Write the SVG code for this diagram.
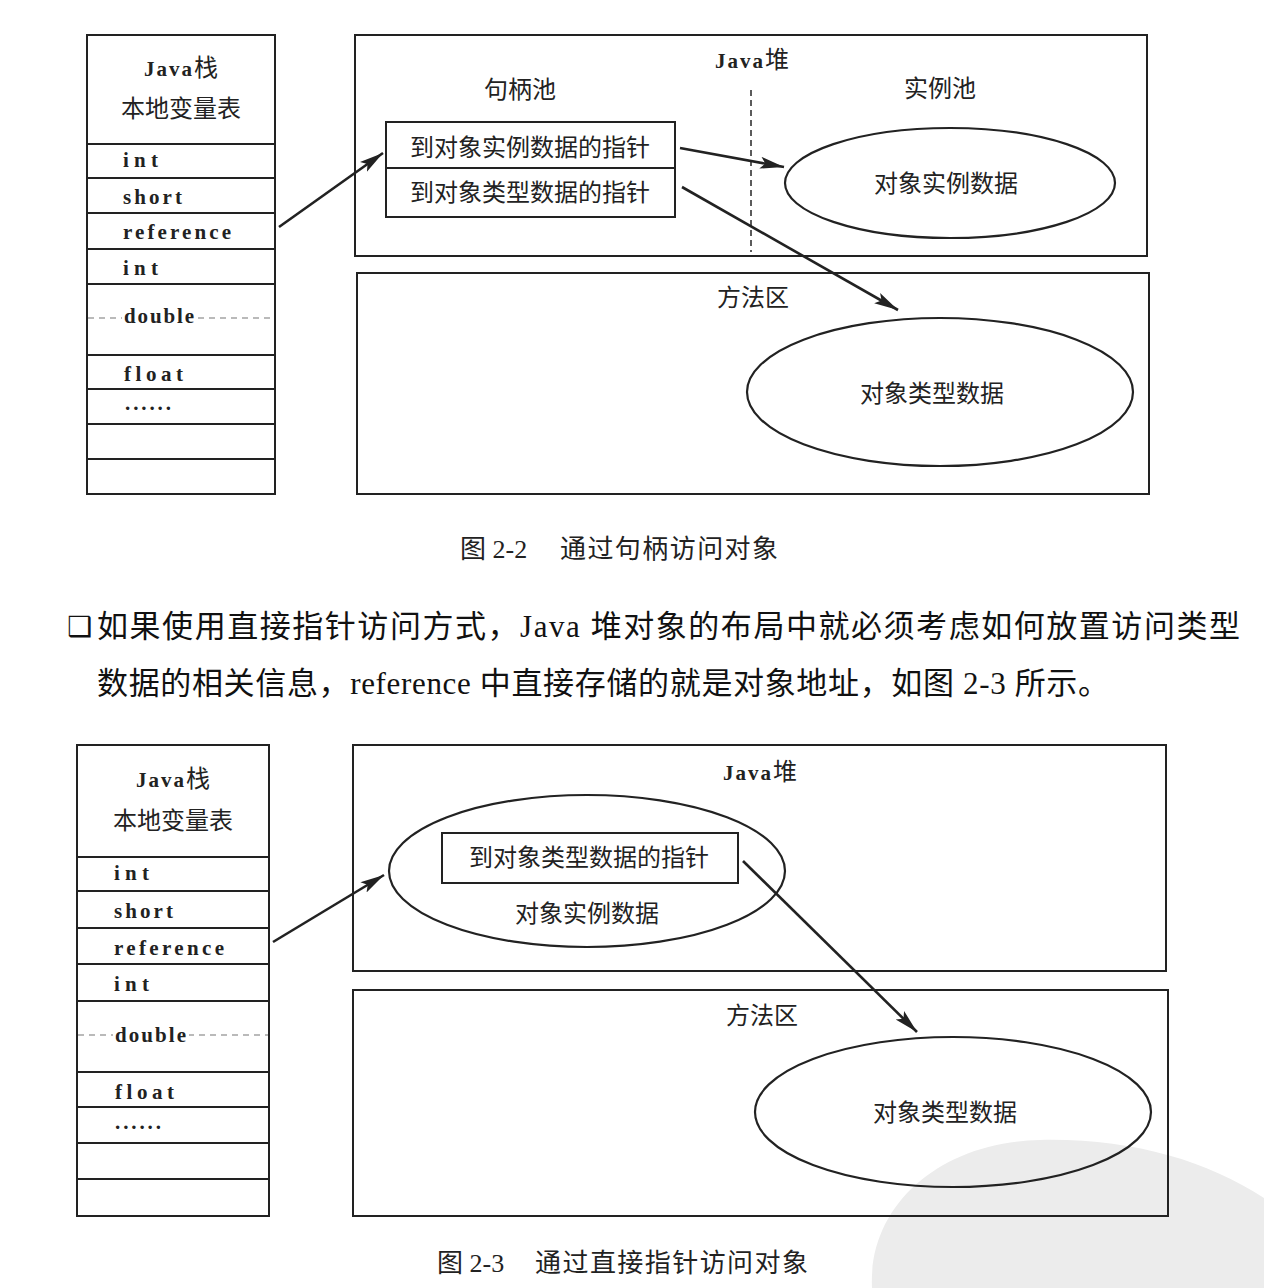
<svg xmlns="http://www.w3.org/2000/svg" width="1264" height="1288" viewBox="0 0 1264 1288">
<style>
.box{fill:none;stroke:#222;stroke-width:2}
.dash{fill:none;stroke:#777;stroke-width:1.2;stroke-dasharray:6,5}
.vdash{fill:none;stroke:#333;stroke-width:1.6;stroke-dasharray:6,4}
.ell{fill:none;stroke:#222;stroke-width:2.2}
.mono{font-family:"Liberation Serif","DejaVu Serif",serif;font-weight:bold;font-size:21px;fill:#222}
.jv{font-family:"Liberation Serif","DejaVu Serif",serif;font-weight:bold;font-size:21px;fill:#222;letter-spacing:2px}
.cjk{font-family:"Noto Sans CJK SC","Noto Sans",sans-serif;font-size:24px;fill:#222}
.cap{font-family:"Liberation Serif","Noto Sans CJK SC",serif;font-size:26px;fill:#222}
.para{font-family:"Liberation Serif","Noto Sans CJK SC",serif;font-size:31px;fill:#111}
.arrow{fill:none;stroke:#222;stroke-width:2.6}
</style>
<defs>
<marker id="ah" markerUnits="userSpaceOnUse" markerWidth="26" markerHeight="14" refX="24" refY="7" orient="auto">
<path d="M0,1 L24,7 L0,13 L5,7 Z" fill="#222"/>
</marker>
</defs>
<rect width="1264" height="1288" fill="#fff"/>
<path d="M872 1288 C868 1205 940 1142 1040 1140 C1130 1138 1205 1160 1264 1198 L1264 1288 Z" fill="#ececec"/>

<!-- Figure 2-2 -->
<g id="stack1">
<rect class="box" x="87" y="35" width="188" height="459"/>
<line class="box" x1="87" y1="144" x2="275" y2="144"/>
<line class="box" x1="87" y1="178" x2="275" y2="178"/>
<line class="box" x1="87" y1="213" x2="275" y2="213"/>
<line class="box" x1="87" y1="249" x2="275" y2="249"/>
<line class="box" x1="87" y1="284" x2="275" y2="284"/>
<line class="box" x1="87" y1="355" x2="275" y2="355"/>
<line class="box" x1="87" y1="389" x2="275" y2="389"/>
<line class="box" x1="87" y1="424" x2="275" y2="424"/>
<line class="box" x1="87" y1="459" x2="275" y2="459"/>
<line class="dash" x1="88" y1="318" x2="274" y2="318"/>
<rect x="122" y="305" width="76" height="24" fill="#fff"/>
<text x="181" y="76" text-anchor="middle"><tspan class="jv">Java</tspan><tspan class="cjk" font-size="22">栈</tspan></text>
<text class="cjk" x="181" y="117" text-anchor="middle">本地变量表</text>
<text class="mono" x="123" y="167" textLength="35">int</text>
<text class="mono" x="123" y="204" textLength="59">short</text>
<text class="mono" x="123" y="239" textLength="108">reference</text>
<text class="mono" x="123" y="275" textLength="35">int</text>
<text class="mono" x="124" y="323" textLength="70">double</text>
<text class="mono" x="124" y="381" textLength="59">float</text>
<text class="mono" x="125" y="410" textLength="46">......</text>
</g>

<g id="heap1">
<rect class="box" x="355" y="35" width="792" height="221"/>
<text x="752" y="68" text-anchor="middle"><tspan class="jv">Java</tspan><tspan class="cjk" font-size="22">堆</tspan></text>
<text class="cjk" x="520" y="98" text-anchor="middle">句柄池</text>
<text class="cjk" x="940" y="97" text-anchor="middle">实例池</text>
<line class="vdash" x1="751" y1="90" x2="751" y2="252"/>
</g>

<g id="handle1">
<rect class="box" x="386" y="122" width="289" height="95"/>
<line class="box" x1="386" y1="168" x2="675" y2="168"/>
<text class="cjk" x="530" y="156" text-anchor="middle">到对象实例数据的指针</text>
<text class="cjk" x="530" y="201" text-anchor="middle">到对象类型数据的指针</text>
</g>

<g id="inst1">
<ellipse class="ell" cx="950" cy="183" rx="165" ry="55"/>
<text class="cjk" x="946" y="192" text-anchor="middle">对象实例数据</text>
</g>

<g id="method1">
<rect class="box" x="357" y="273" width="792" height="221"/>
<text class="cjk" x="753" y="306" text-anchor="middle">方法区</text>
</g>

<g id="type1">
<ellipse class="ell" cx="940" cy="392" rx="193" ry="74"/>
<text class="cjk" x="932" y="402" text-anchor="middle">对象类型数据</text>
</g>

<g id="caption1">
<text class="cap" x="460" y="558">图 2-2</text>
<text class="cap" x="560" y="558" textLength="218">通过句柄访问对象</text>
</g>

<g id="paragraph">
<text x="67" y="636" font-family="DejaVu Sans,sans-serif" font-size="28" fill="#111">❑</text>
<text class="para" x="97" y="637" textLength="1143">如果使用直接指针访问方式，Java 堆对象的布局中就必须考虑如何放置访问类型</text>
<text class="para" x="97" y="694" textLength="1012">数据的相关信息，reference 中直接存储的就是对象地址，如图 2-3 所示。</text>
</g>

<!-- Figure 2-3 -->
<g id="stack2">
<rect class="box" x="77" y="745" width="192" height="471"/>
<line class="box" x1="77" y1="857" x2="269" y2="857"/>
<line class="box" x1="77" y1="891" x2="269" y2="891"/>
<line class="box" x1="77" y1="928" x2="269" y2="928"/>
<line class="box" x1="77" y1="964" x2="269" y2="964"/>
<line class="box" x1="77" y1="1001" x2="269" y2="1001"/>
<line class="box" x1="77" y1="1072" x2="269" y2="1072"/>
<line class="box" x1="77" y1="1107" x2="269" y2="1107"/>
<line class="box" x1="77" y1="1143" x2="269" y2="1143"/>
<line class="box" x1="77" y1="1179" x2="269" y2="1179"/>
<line class="dash" x1="78" y1="1035" x2="268" y2="1035"/>
<rect x="113" y="1022" width="76" height="24" fill="#fff"/>
<text x="173" y="787" text-anchor="middle"><tspan class="jv">Java</tspan><tspan class="cjk" font-size="22">栈</tspan></text>
<text class="cjk" x="173" y="829" text-anchor="middle">本地变量表</text>
<text class="mono" x="114" y="880" textLength="35">int</text>
<text class="mono" x="114" y="918" textLength="59">short</text>
<text class="mono" x="114" y="955" textLength="110">reference</text>
<text class="mono" x="114" y="991" textLength="35">int</text>
<text class="mono" x="115" y="1042" textLength="71">double</text>
<text class="mono" x="115" y="1099" textLength="59">float</text>
<text class="mono" x="115" y="1129" textLength="46">......</text>
</g>

<g id="heap2">
<rect class="box" x="353" y="745" width="813" height="226"/>
<text x="760" y="780" text-anchor="middle"><tspan class="jv">Java</tspan><tspan class="cjk" font-size="22">堆</tspan></text>
</g>

<g id="inst2">
<ellipse class="ell" cx="587" cy="871" rx="198" ry="76"/>
<rect class="box" x="442" y="833" width="296" height="50"/>
<text class="cjk" x="589" y="866" text-anchor="middle">到对象类型数据的指针</text>
<text class="cjk" x="587" y="922" text-anchor="middle">对象实例数据</text>
</g>

<g id="method2">
<rect class="box" x="353" y="990" width="815" height="226"/>
<text class="cjk" x="762" y="1024" text-anchor="middle">方法区</text>
</g>

<g id="type2">
<ellipse class="ell" cx="953" cy="1112" rx="198" ry="75"/>
<text class="cjk" x="945" y="1121" text-anchor="middle">对象类型数据</text>
</g>

<g id="caption2">
<text class="cap" x="437" y="1272">图 2-3</text>
<text class="cap" x="535" y="1272" textLength="273">通过直接指针访问对象</text>
</g>

<g id="connectors">
<line class="arrow" x1="279" y1="227" x2="383" y2="153" marker-end="url(#ah)"/>
<line class="arrow" x1="680" y1="148" x2="784" y2="167" marker-end="url(#ah)"/>
<line class="arrow" x1="682" y1="187" x2="898" y2="310" marker-end="url(#ah)"/>
<line class="arrow" x1="273" y1="942" x2="384" y2="875" marker-end="url(#ah)"/>
<line class="arrow" x1="743" y1="861" x2="917" y2="1032" marker-end="url(#ah)"/>
</g>
</svg>
